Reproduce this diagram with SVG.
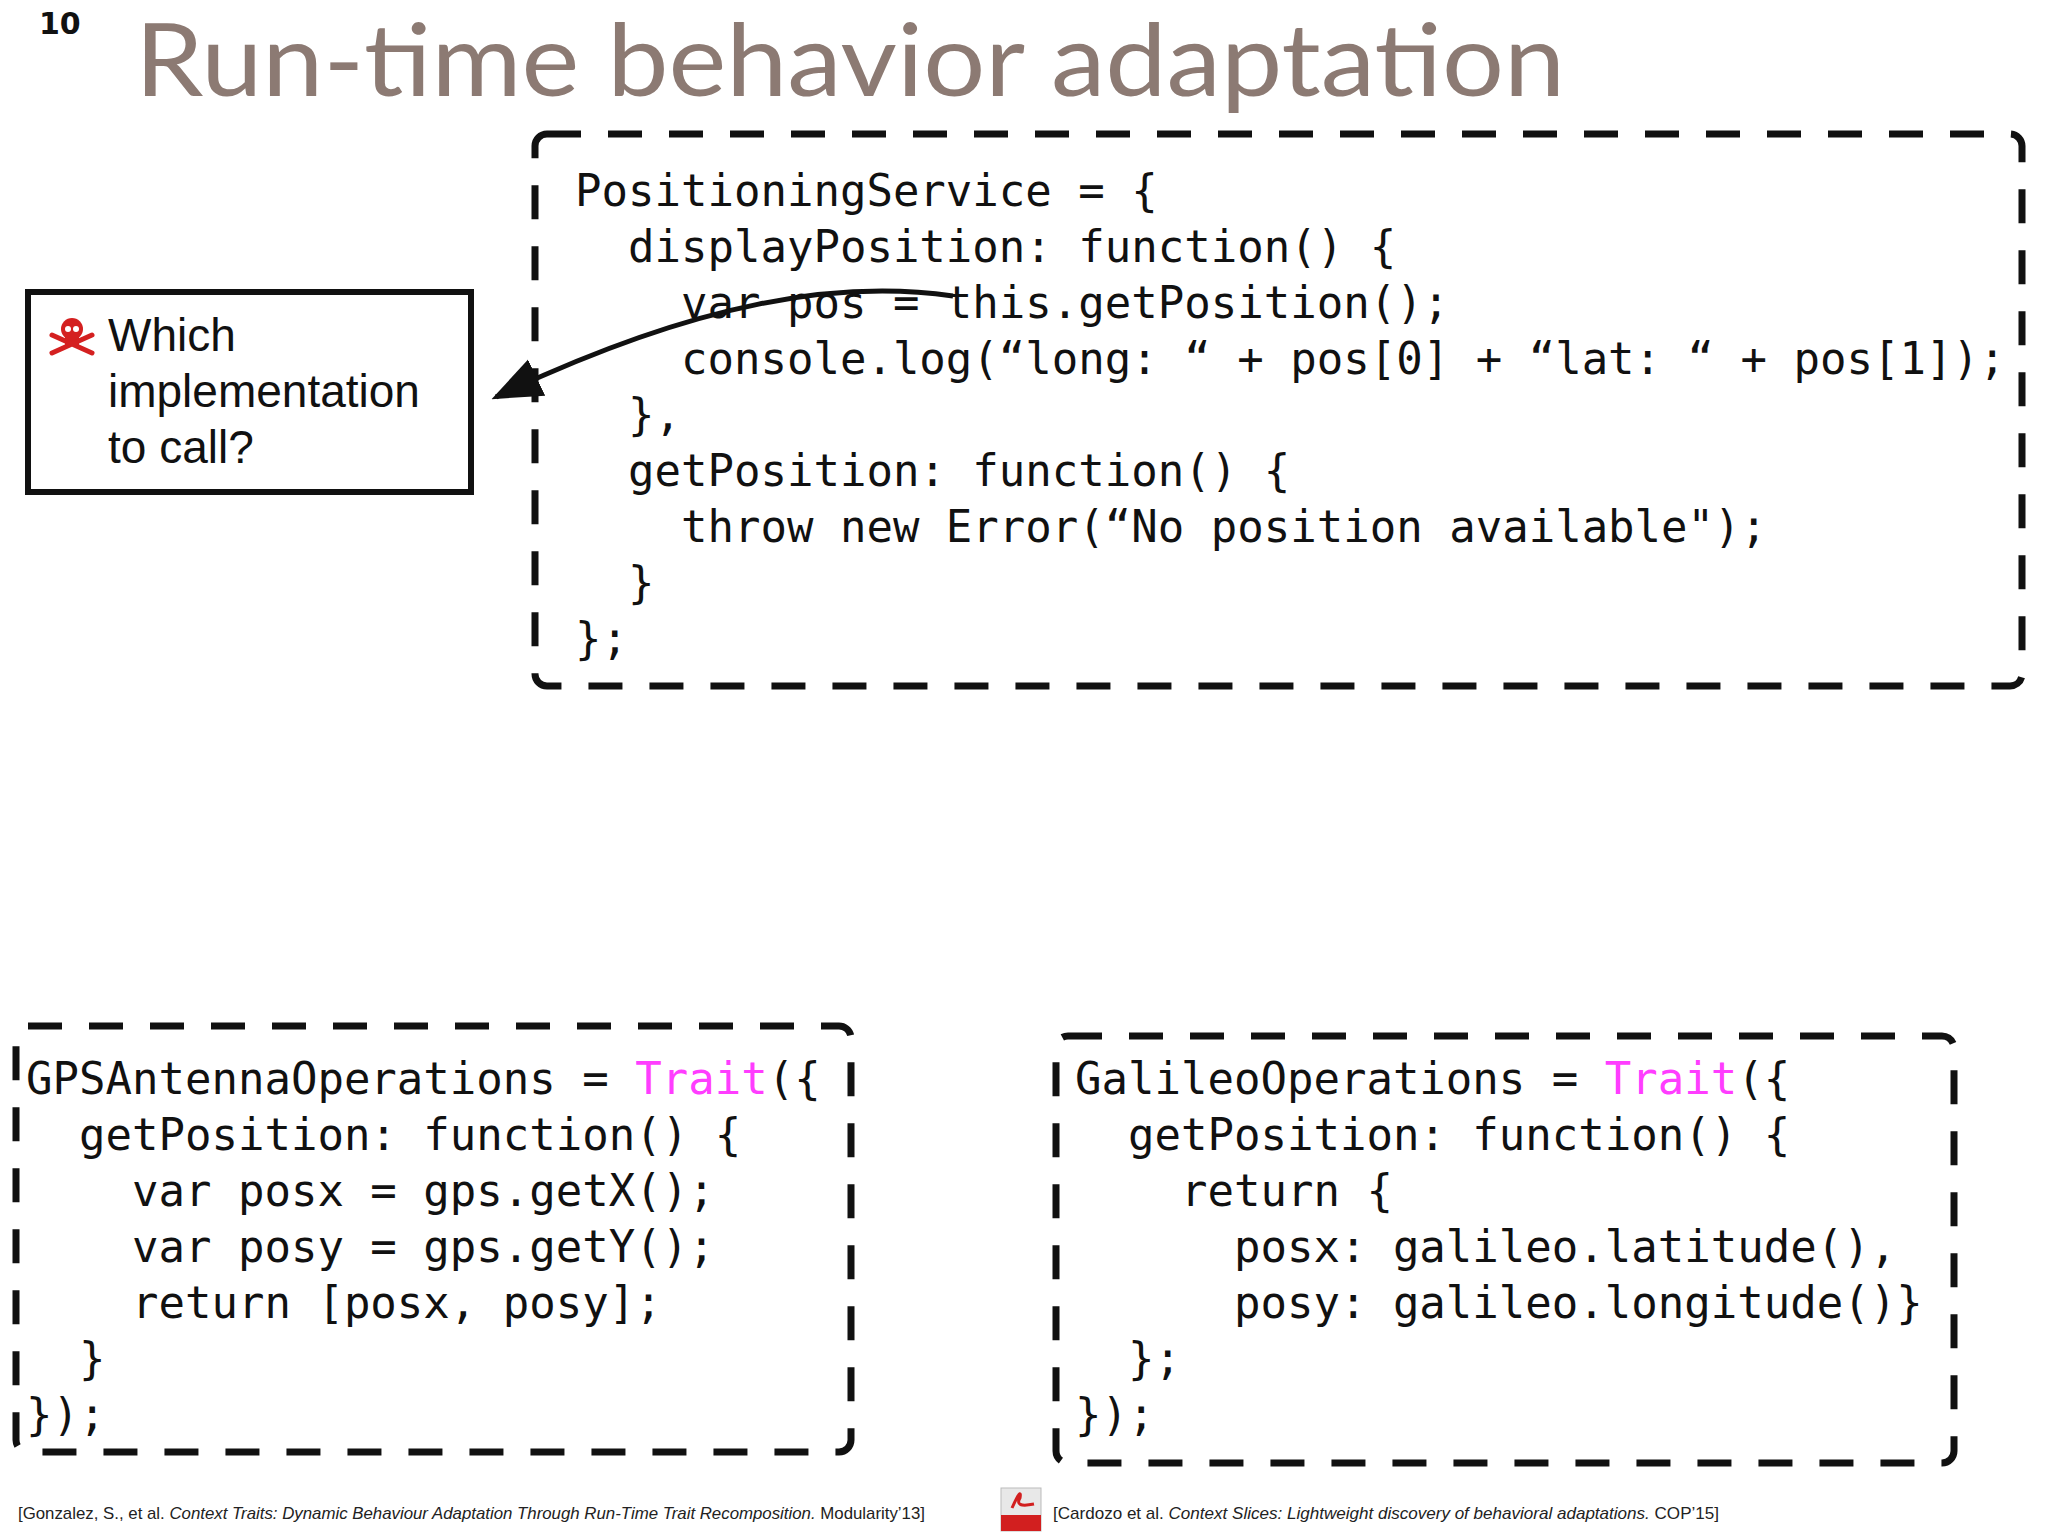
<svg xmlns="http://www.w3.org/2000/svg" width="2048" height="1536" viewBox="0 0 2048 1536">
<defs>
<style>
.code{font-family:"DejaVu Sans Mono","Liberation Mono",monospace;font-size:44px;fill:#111;white-space:pre}
.dash{fill:none;stroke:#111;stroke-width:7;stroke-dasharray:34 27}
.tr{fill:#ff3dff}
.foot{font-family:"Liberation Sans Narrow","Liberation Sans",sans-serif;font-size:17px;fill:#222}
</style>
<marker id="ah" markerWidth="10" markerHeight="10" refX="9" refY="5" orient="auto" markerUnits="strokeWidth"><path d="M0,1 L10,5 L0,9 z" fill="#111"/></marker>
</defs>
<rect width="2048" height="1536" fill="#fff"/>
<text x="39" y="34" font-family="DejaVu Sans" font-weight="bold" font-size="30" fill="#111">10</text>
<text x="135" y="96" font-family="Lato, 'Open Sans', sans-serif" font-size="100" fill="#8c7a73" textLength="1430" lengthAdjust="spacingAndGlyphs">Run-time behavior adaptation</text>

<g id="service">
<rect class="dash" x="535" y="134" width="1487" height="552" rx="12"/>
<text class="code" x="575" y="206">PositioningService = {</text>
<text class="code" x="575" y="262">  displayPosition: function() {</text>
<text class="code" x="575" y="318">    var pos = this.getPosition();</text>
<text class="code" x="575" y="374">    console.log(“long: “ + pos[0] + “lat: “ + pos[1]);</text>
<text class="code" x="575" y="430">  },</text>
<text class="code" x="575" y="486">  getPosition: function() {</text>
<text class="code" x="575" y="542">    throw new Error(“No position available");</text>
<text class="code" x="575" y="598">  }</text>
<text class="code" x="575" y="654">};</text>
</g>

<g id="question">
<rect x="28" y="292" width="443" height="200" fill="#fff" stroke="#111" stroke-width="6"/>
<g transform="translate(72,337)" fill="#d42020">
<circle cx="0" cy="-8" r="11"/>
<rect x="-7" y="0" width="14" height="8"/>
<path d="M-20,-2 L20,16 M20,-2 L-20,16" stroke="#d42020" stroke-width="5" stroke-linecap="round"/>
<circle cx="-4" cy="-8" r="3" fill="#fff"/><circle cx="4" cy="-8" r="3" fill="#fff"/>
</g>
<text font-family="Liberation Sans, Arial, sans-serif" font-size="46" fill="#111"><tspan x="108" y="351">Which</tspan><tspan x="108" y="407">implementation</tspan><tspan x="108" y="463">to call?</tspan></text>
</g>

<g id="gps">
<rect class="dash" x="16" y="1026" width="835" height="426" rx="12"/>
<text class="code" x="26" y="1094">GPSAntennaOperations = <tspan class="tr">Trait</tspan>({</text>
<text class="code" x="26" y="1150">  getPosition: function() {</text>
<text class="code" x="26" y="1206">    var posx = gps.getX();</text>
<text class="code" x="26" y="1262">    var posy = gps.getY();</text>
<text class="code" x="26" y="1318">    return [posx, posy];</text>
<text class="code" x="26" y="1374">  }</text>
<text class="code" x="26" y="1430">});</text>
</g>

<g id="galileo">
<rect class="dash" x="1056" y="1036" width="898" height="427" rx="12"/>
<text class="code" x="1075" y="1094">GalileoOperations = <tspan class="tr">Trait</tspan>({</text>
<text class="code" x="1075" y="1150">  getPosition: function() {</text>
<text class="code" x="1075" y="1206">    return {</text>
<text class="code" x="1075" y="1262">      posx: galileo.latitude(),</text>
<text class="code" x="1075" y="1318">      posy: galileo.longitude()}</text>
<text class="code" x="1075" y="1374">  };</text>
<text class="code" x="1075" y="1430">});</text>
</g>

<g id="connectors">
<path d="M953,296 C840,280 700,300 496,397" fill="none" stroke="#111" stroke-width="5" marker-end="url(#ah)"/>
</g>

<g id="footer">
<text class="foot" x="18" y="1519" textLength="907" lengthAdjust="spacingAndGlyphs">[Gonzalez, S., et al. <tspan font-style="italic">Context Traits: Dynamic Behaviour Adaptation Through Run-Time Trait Recomposition.</tspan> Modularity’13]</text>
<rect x="1001" y="1488" width="40" height="43" fill="#e8e8e8" stroke="#bbb"/>
<rect x="1001" y="1515" width="40" height="16" fill="#d21f1f"/>
<path d="M1012,1508 q10,-22 8,-10 q-6,10 14,6" fill="none" stroke="#d21f1f" stroke-width="3"/>
<text class="foot" x="1053" y="1519" textLength="666" lengthAdjust="spacingAndGlyphs">[Cardozo et al. <tspan font-style="italic">Context Slices: Lightweight discovery of behavioral adaptations.</tspan> COP’15]</text>
</g>
</svg>
